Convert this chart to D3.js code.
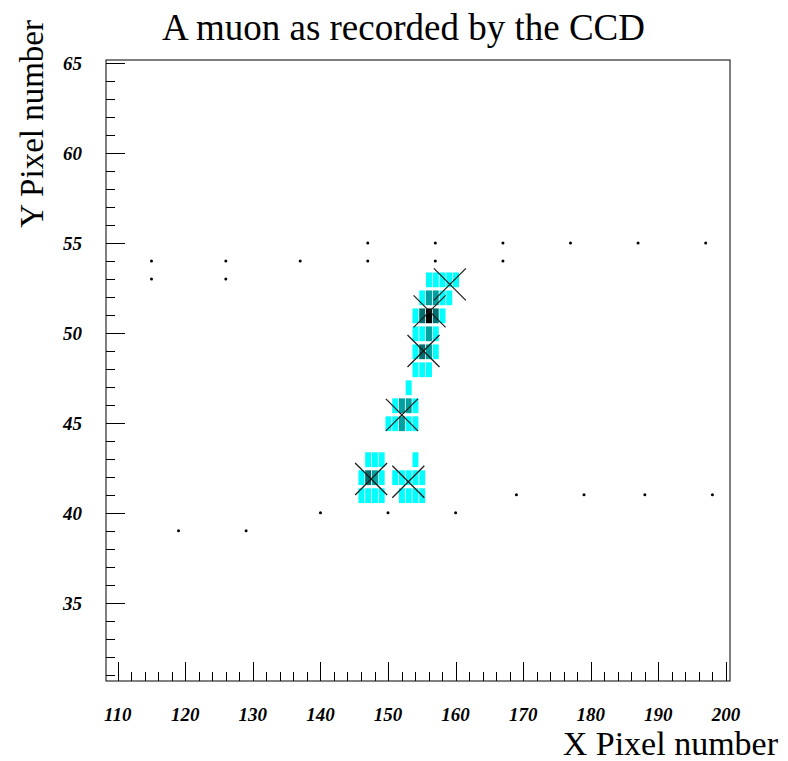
<!DOCTYPE html>
<html>
<head>
<meta charset="utf-8">
<script src="https://cdn.jsdelivr.net/npm/d3@7"></script>
<style>
  html, body { margin: 0; padding: 0; background: #fff; }
  svg { display: block; }
</style>
</head>
<body>
<svg id="chart" width="788" height="761"></svg>
<script>
// ---- data ----
const titleText = "A muon as recorded by the CCD";
const xTitle = "X Pixel number";
const yTitle = "Y Pixel number";

const xMajorTicks = [110, 120, 130, 140, 150, 160, 170, 180, 190, 200];
const yMajorTicks = [35, 40, 45, 50, 55, 60, 65];

// CCD pixels hit by the muon: x pixel, y pixel, charge level (1..4)
const cellX = [
  156,157,158,159,160,
  155,156,157,158,159,
  154,155,156,157,158,
  154,155,156,157,
  154,155,156,157,
  154,155,156,
  153,
  151,152,153,154,
  150,151,152,153,154,
  147,148,149,154,
  146,147,148,149,151,152,153,154,155,
  146,147,148,149,152,153,154,155
];
const cellY = [
  53,53,53,53,53,
  52,52,52,52,52,
  51,51,51,51,51,
  50,50,50,50,
  49,49,49,49,
  48,48,48,
  47,
  46,46,46,46,
  45,45,45,45,45,
  43,43,43,43,
  42,42,42,42,42,42,42,42,42,
  41,41,41,41,41,41,41,41
];
const cellLevel = [
  1,1,1,1,1,
  1,2,2,1,1,
  1,3,4,3,1,
  1,1,2,1,
  1,3,2,1,
  1,1,1,
  1,
  1,2,2,1,
  1,1,2,1,1,
  1,1,1,1,
  1,3,2,1,1,1,1,1,1,
  1,1,1,1,1,1,1,1
];
const levelColors = ["#00ffff", "#00a0a0", "#006e6e", "#000000"];

// isolated single-count pixels (noise)
const noiseX = [147,157,167,177,187,197, 115,126,137,147,157,167, 115,126, 169,179,188,198, 140,150,160, 119,129];
const noiseY = [55,55,55,55,55,55, 54,54,54,54,54,54, 53,53, 41,41,41,41, 40,40,40, 39,39];

// reconstructed cluster centres (crosses)
const crossX = [159.15, 156.15, 155.25, 152.05, 147.5, 153.0];
const crossY = [52.7, 51.2, 49.0, 45.45, 41.88, 41.73];

// ---- layout ----
const frame = { left: 106, right: 730, top: 60, bottom: 681 };
const xDomain = [108.27, 200.6];
const yDomain = [30.65, 65.18];

const svg = d3.select("#chart");
const x = d3.scaleLinear().domain(xDomain).range([frame.left, frame.right]);
const y = d3.scaleLinear().domain(yDomain).range([frame.bottom, frame.top]);
const color = d3.scaleOrdinal().domain([1, 2, 3, 4]).range(levelColors);

const serif = "'Liberation Serif', 'Times New Roman', Times, serif";

// cells
const cells = cellX.map((cx, i) => ({ x: cx, y: cellY[i], level: cellLevel[i] }));
svg.append("g").selectAll("rect").data(cells).join("rect")
  .attr("x", d => x(d.x - 0.5) + 0.8)
  .attr("y", d => y(d.y + 0.5) + 2.4)
  .attr("width", d => x(d.x + 0.5) - x(d.x - 0.5) - 0.8)
  .attr("height", d => y(d.y - 0.5) - y(d.y + 0.5) - 3.2)
  .attr("fill", d => color(d.level));

// noise dots
const noise = noiseX.map((nx, i) => ({ x: nx, y: noiseY[i] }));
svg.append("g").selectAll("circle").data(noise).join("circle")
  .attr("cx", d => x(d.x))
  .attr("cy", d => y(d.y))
  .attr("r", 1.5)
  .attr("fill", "#000");

// crosses
const crosses = crossX.map((cx, i) => ({ x: cx, y: crossY[i] }));
const half = 16;
const cg = svg.append("g").attr("stroke", "#1a1a1a").attr("stroke-width", 1.2).attr("fill", "none");
crosses.forEach(d => {
  const px = x(d.x), py = y(d.y);
  cg.append("line").attr("x1", px - half).attr("y1", py - half).attr("x2", px + half).attr("y2", py + half);
  cg.append("line").attr("x1", px - half).attr("y1", py + half).attr("x2", px + half).attr("y2", py - half);
});

// frame
svg.append("rect")
  .attr("x", frame.left).attr("y", frame.top)
  .attr("width", frame.right - frame.left).attr("height", frame.bottom - frame.top)
  .attr("fill", "none").attr("stroke", "#000").attr("stroke-width", 1);

// x ticks (inside, upward)
const xMinor = d3.range(110, 201, 2);
const xTicks = svg.append("g").attr("stroke", "#000").attr("stroke-width", 1);
xMinor.forEach(v => {
  const major = xMajorTicks.includes(v);
  xTicks.append("line")
    .attr("x1", Math.round(x(v)) + 0.5).attr("x2", Math.round(x(v)) + 0.5)
    .attr("y1", frame.bottom).attr("y2", frame.bottom - (major ? 19 : 9));
});
// y ticks (inside, rightward)
const yMinor = d3.range(31, 66, 1);
const yTicks = svg.append("g").attr("stroke", "#000").attr("stroke-width", 1);
yMinor.forEach(v => {
  const major = yMajorTicks.includes(v);
  yTicks.append("line")
    .attr("y1", Math.round(y(v)) + 0.5).attr("y2", Math.round(y(v)) + 0.5)
    .attr("x1", frame.left).attr("x2", frame.left + (major ? 19 : 9));
});

// tick labels
svg.append("g").selectAll("text").data(xMajorTicks).join("text")
  .attr("x", d => x(d))
  .attr("y", 721)
  .attr("text-anchor", "middle")
  .attr("font-family", serif).attr("font-weight", "bold").attr("font-style", "italic")
  .attr("font-size", 19)
  .text(d => d);
svg.append("g").selectAll("text").data(yMajorTicks).join("text")
  .attr("x", 82)
  .attr("y", d => y(d))
  .attr("dy", "0.36em")
  .attr("text-anchor", "end")
  .attr("font-family", serif).attr("font-weight", "bold").attr("font-style", "italic")
  .attr("font-size", 19)
  .text(d => d);

// titles
svg.append("text")
  .attr("x", 403.5).attr("y", 40)
  .attr("text-anchor", "middle")
  .attr("font-family", serif).attr("font-size", 37)
  .text(titleText);
svg.append("text")
  .attr("x", 778).attr("y", 755)
  .attr("text-anchor", "end")
  .attr("font-family", serif).attr("font-size", 34)
  .text(xTitle);
svg.append("text")
  .attr("transform", "translate(43,20) rotate(-90)")
  .attr("text-anchor", "end")
  .attr("font-family", serif).attr("font-size", 33)
  .text(yTitle);
</script>
</body>
</html>
